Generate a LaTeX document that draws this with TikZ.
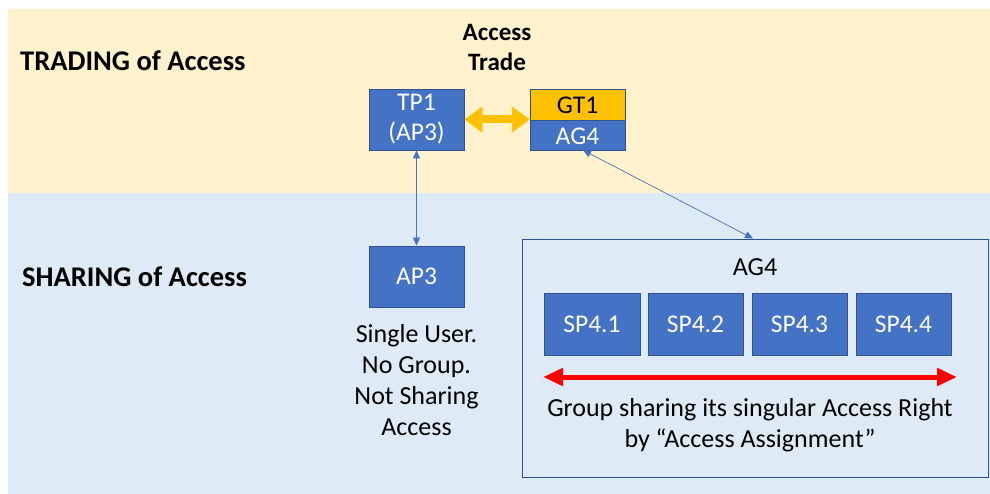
\documentclass[tikz,border=0pt]{standalone}
\usepackage{fontspec}
\setmainfont{Carlito}
\usetikzlibrary{arrows.meta}
\definecolor{bandyellow}{HTML}{FFF2CC}
\definecolor{bandblue}{HTML}{DEEAF6}
\definecolor{boxblue}{HTML}{4472C4}
\definecolor{boxedge}{HTML}{2F528F}
\definecolor{gold}{HTML}{FFC000}
\tikzset{
  px/.style={x={(1pt,0)},y={(0,-1pt)}},
  bluebox/.style={draw=boxedge,line width=0.8pt,fill=boxblue,text=white,font=\fontsize{25.5}{30}\selectfont,align=center,inner sep=0pt},
  goldbox/.style={draw=boxedge,line width=0.8pt,fill=gold,text=black,font=\fontsize{25.5}{30}\selectfont,align=center,inner sep=0pt},
  heading/.style={font=\bfseries\fontsize{28.5}{34}\selectfont,anchor=west,inner sep=0pt},
  plain/.style={font=\fontsize{26}{31}\selectfont,align=center,inner sep=0pt},
  link/.style={draw=boxblue,line width=0.7pt,{Triangle[width=7pt,length=8pt]}-{Triangle[width=7pt,length=8pt]}},
  tradearrow/.style={draw=gold,line width=8pt,{Triangle[width=25pt,length=18pt]}-{Triangle[width=25pt,length=18pt]}},
  sharearrow/.style={draw=red,line width=5pt,{Triangle[width=17pt,length=20pt]}-{Triangle[width=17pt,length=20pt]}}
}
\begin{document}
\begin{tikzpicture}[px]
  \useasboundingbox (0,0) rectangle (990,494);
  % background bands
  \fill[white] (0,0) rectangle (990,494);
  \fill[bandyellow] (8,9) rectangle (990,193);
  \fill[bandblue] (8,193) rectangle (990,494);

  % row headings
  \node[heading] (trading) at (20,61) {TRADING of Access};
  \node[heading] (sharing) at (22,277) {SHARING of Access};

  % trading row
  \node[font=\bfseries\fontsize{25}{30}\selectfont,align=center,inner sep=0pt] (trade) at (497,47) {Access\\Trade};
  \path[bluebox] (369,89) rectangle (464,150);
  \node[bluebox,draw=none,fill=none,minimum width=95pt,minimum height=61pt] (tp1) at (416.5,119.5) {TP1\\(AP3)};
  \path[goldbox] (530,89) rectangle (625,120);
  \path[bluebox] (530,120) rectangle (625,150);
  \node[inner sep=0pt,minimum width=95pt,minimum height=61pt] (gt) at (577.5,119.5) {};
  \node[goldbox,draw=none,fill=none] (gt1) at (577.5,105) {GT1};
  \node[bluebox,draw=none,fill=none] (ag4top) at (577.5,136) {AG4};

  % sharing row: single user
  \node[bluebox,minimum width=95pt,minimum height=61pt] (ap3) at (416.5,276.5) {AP3};
  \node[plain] (single) at (416.5,380) {Single User.\\No Group.\\Not Sharing\\Access};

  % sharing row: access group
  \node[draw=boxedge,line width=0.9pt,fill=bandblue,minimum width=466pt,minimum height=238pt,inner sep=0pt] (group) at (755,358) {};
  \node[plain] (grouplabel) at (755,267) {AG4};
  \node[bluebox,minimum width=96pt,minimum height=62pt] (sp1) at (592,324) {SP4.1};
  \node[bluebox,minimum width=95pt,minimum height=62pt] (sp2) at (695.5,324) {SP4.2};
  \node[bluebox,minimum width=95pt,minimum height=62pt] (sp3) at (799.5,324) {SP4.3};
  \node[bluebox,minimum width=95pt,minimum height=62pt] (sp4) at (903.5,324) {SP4.4};
  \coordinate (shareL) at (543,377);
  \coordinate (shareR) at (957,377);
  \draw[sharearrow] (shareL) -- (shareR);
  \node[plain] (groupnote) at (750,425) {Group sharing its singular Access Right\\by “Access Assignment”};

  % connectors
  \draw[tradearrow] (tp1.east) -- (gt.west);
  \draw[link] (tp1.south) -- (ap3.north);
  \draw[link] ([xshift=5.5pt]gt.south) -- ([xshift=-2pt]group.north);
\end{tikzpicture}
\end{document}
